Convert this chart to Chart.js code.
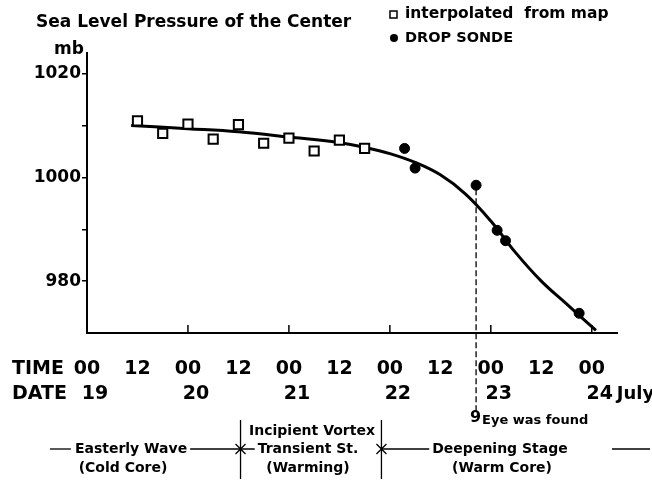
<!DOCTYPE html>
<html>
<head>
<meta charset="utf-8">
<script src="https://cdn.jsdelivr.net/npm/chart.js@4.4.1/dist/chart.umd.min.js"></script>
<style>
  html, body { margin: 0; padding: 0; background: #fff; }
</style>
</head>
<body>
<canvas id="chart" width="652" height="483"></canvas>
<script>
// hours after 00Z 19 July
const mapHours = [12, 18, 24, 30, 36, 42, 48, 54, 60, 66];
const mapPressure = [1010.9, 1008.5, 1010.3, 1007.4, 1010.2, 1006.6, 1007.6, 1005.1, 1007.2, 1005.6];

const sondeHours = [75.5, 78, 92.5, 97.5, 99.5, 117];
const sondePressure = [1005.6, 1001.8, 998.5, 989.8, 987.8, 973.8];

// hand-drawn smooth curve
const curveHours = [10.5, 24, 36, 48, 60, 66, 72, 78, 84, 90, 96, 102, 108, 114, 117, 121];
const curvePressure = [1010.0, 1009.4, 1008.8, 1007.8, 1006.7, 1005.8, 1004.6, 1002.9, 1000.5, 996.8, 991.6, 985.4, 980.0, 975.6, 973.4, 970.5];

const timeLabels = ["00", "12", "00", "12", "00", "12", "00", "12", "00", "12", "00"];
const dateLabels = ["19", "20", "21", "22", "23", "24"];
const yLabels = [980, 1000, 1020];

const eyeHour = 92.5;
const eyePressure = 998.5;
const stageBreaks = [36.5, 70];

const FONT = '"DejaVu Sans", sans-serif';

const annotations = {
    id: 'annotations',
    afterDatasetsDraw(chart) {
        const { ctx, scales: { x, y } } = chart;
        ctx.save();
        ctx.fillStyle = '#000';
        ctx.strokeStyle = '#000';

        // inward day ticks on the time axis
        ctx.lineWidth = 1.5;
        dateLabels.forEach((d, i) => {
            if (i === 0) return;
            const px = x.getPixelForValue(i * 24);
            ctx.beginPath();
            ctx.moveTo(px, y.bottom);
            ctx.lineTo(px, y.bottom - 8);
            ctx.stroke();
        });

        // eye was found line
        const ex = x.getPixelForValue(eyeHour);
        ctx.lineWidth = 1.3;
        ctx.setLineDash([6, 3]);
        ctx.beginPath();
        ctx.moveTo(ex, y.getPixelForValue(eyePressure) + 4);
        ctx.lineTo(ex, 412);
        ctx.stroke();
        ctx.setLineDash([]);

        // title and legend
        ctx.textBaseline = 'middle';
        ctx.textAlign = 'left';
        ctx.font = 'bold 17px ' + FONT;
        ctx.fillText('Sea Level Pressure of the Center', 36, 23);

        ctx.lineWidth = 1.5;
        ctx.strokeRect(390, 11, 7, 7);
        ctx.beginPath();
        ctx.arc(394, 38, 4, 0, Math.PI * 2);
        ctx.fill();
        ctx.font = 'bold 15.5px ' + FONT;
        ctx.fillText('interpolated  from map', 405, 14);
        ctx.font = 'bold 14.5px ' + FONT;
        ctx.fillText('DROP SONDE', 405, 38);

        ctx.font = 'bold 17px ' + FONT;
        ctx.textAlign = 'right';
        ctx.fillText('mb', 84, 50);

        // time and date rows
        ctx.font = 'bold 19px ' + FONT;
        ctx.textAlign = 'left';
        ctx.fillText('TIME', 12, 369);
        ctx.fillText('DATE', 12, 394);
        ctx.textAlign = 'center';
        timeLabels.forEach((t, i) => {
            ctx.fillText(t, x.getPixelForValue(i * 12), 369);
        });
        dateLabels.forEach((d, i) => {
            ctx.fillText(d, x.getPixelForValue(i * 24) + 8, 394);
        });
        ctx.textAlign = 'left';
        ctx.font = 'bold 18px ' + FONT;
        ctx.fillText('July', x.getPixelForValue(120) + 25, 394);

        // eye note
        ctx.font = 'bold 16px ' + FONT;
        ctx.fillText('9', ex - 6, 418);
        ctx.font = 'bold 13px ' + FONT;
        ctx.fillText('Eye was found', ex + 6, 421);

        // stages
        const y1 = 449, y2 = 468;
        ctx.font = 'bold 14px ' + FONT;
        ctx.textAlign = 'center';
        ctx.fillText('Incipient Vortex', 312, 431);
        ctx.fillText('(Cold Core)', 123, y2);
        ctx.fillText('(Warming)', 308, y2);
        ctx.fillText('(Warm Core)', 502, y2);

        const s1 = x.getPixelForValue(stageBreaks[0]);
        const s2 = x.getPixelForValue(stageBreaks[1]);
        const stage = (txt, cx) => {
            const w = ctx.measureText(txt).width;
            ctx.fillText(txt, cx, y1);
            return [cx - w / 2, cx + w / 2];
        };
        const a = stage('Easterly Wave', 131);
        const b = stage('Transient St.', 308);
        const c = stage('Deepening Stage', 500);

        ctx.lineWidth = 1.3;
        const hline = (x0, x1) => {
            ctx.beginPath();
            ctx.moveTo(x0, y1);
            ctx.lineTo(x1, y1);
            ctx.stroke();
        };
        hline(50, a[0] - 4);
        hline(a[1] + 3, b[0] - 3);
        hline(s2, c[0] - 3);
        hline(612, 650);

        [s1, s2].forEach(sx => {
            ctx.beginPath();
            ctx.moveTo(sx, 420);
            ctx.lineTo(sx, 479);
            ctx.moveTo(sx - 5, y1 - 5);
            ctx.lineTo(sx + 5, y1 + 5);
            ctx.moveTo(sx - 5, y1 + 5);
            ctx.lineTo(sx + 5, y1 - 5);
            ctx.stroke();
        });

        ctx.restore();
    }
};

new Chart(document.getElementById('chart'), {
    type: 'scatter',
    data: {
        datasets: [
            {
                label: 'interpolated from map',
                data: mapHours.map((h, i) => ({ x: h, y: mapPressure[i] })),
                pointStyle: 'rect',
                pointRadius: 6.5,
                pointBorderWidth: 2,
                borderColor: '#000',
                backgroundColor: '#fff',
            },
            {
                label: 'DROP SONDE',
                data: sondeHours.map((h, i) => ({ x: h, y: sondePressure[i] })),
                pointStyle: 'circle',
                pointRadius: 5,
                borderColor: '#000',
                backgroundColor: '#000',
            },
            {
                label: 'curve',
                data: curveHours.map((h, i) => ({ x: h, y: curvePressure[i] })),
                showLine: true,
                pointRadius: 0,
                borderColor: '#000',
                borderWidth: 3,
                tension: 0.4,
            },
        ]
    },
    options: {
        responsive: false,
        animation: false,
        devicePixelRatio: 1,
        layout: { padding: { top: 53, right: 35, left: 0, bottom: 0 } },
        plugins: { legend: { display: false }, tooltip: { enabled: false } },
        scales: {
            x: {
                type: 'linear',
                min: 0,
                max: 126,
                grid: { display: false },
                border: { display: true, color: '#000', width: 2 },
                ticks: { display: false },
                afterFit: (scale) => { scale.height = 150; },
            },
            y: {
                min: 970,
                max: 1024,
                afterBuildTicks: (scale) => {
                    scale.ticks = [980, 990, 1000, 1010, 1020].map(v => ({ value: v }));
                },
                grid: { drawOnChartArea: false, color: '#000', tickLength: 5, lineWidth: 1.5 },
                border: { display: true, color: '#000', width: 2 },
                ticks: {
                    color: '#000',
                    padding: 1,
                    font: { family: FONT, size: 17, weight: 'bold' },
                    callback: (v) => yLabels.includes(v) ? String(v) : '',
                },
                afterFit: (scale) => { scale.width = 87; },
            }
        }
    },
    plugins: [annotations]
});
</script>
</body>
</html>
